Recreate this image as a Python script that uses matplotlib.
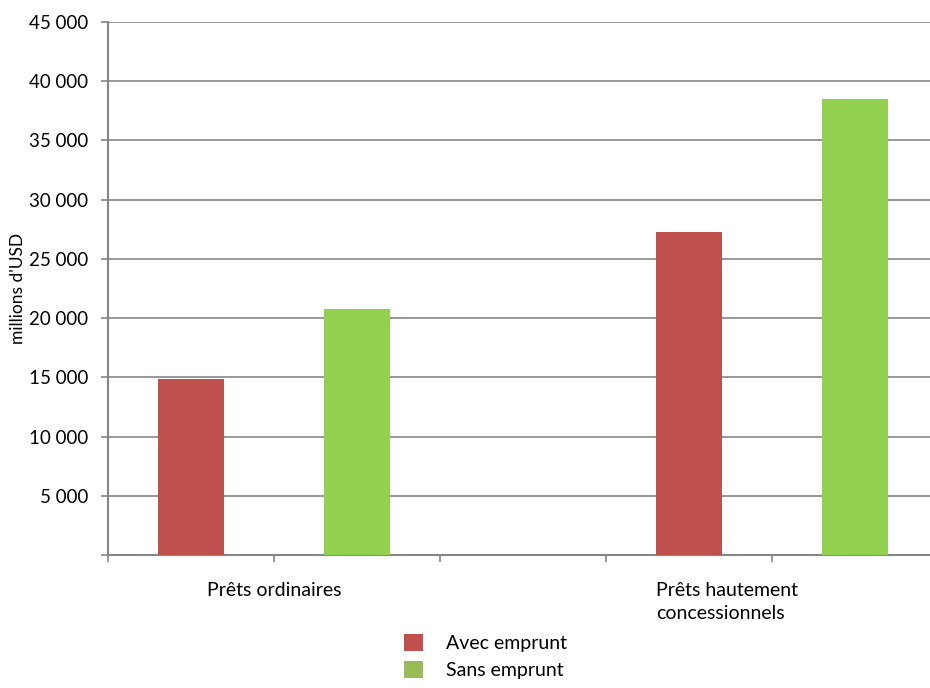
import matplotlib
matplotlib.use('Agg')
import matplotlib.pyplot as plt
from matplotlib.patches import Patch
from matplotlib.ticker import FuncFormatter, MultipleLocator

plt.rcParams['font.family'] = ['Lato', 'DejaVu Sans']

# données (millions d'USD)
categories = ['Prêts ordinaires', 'Prêts hautement\nconcessionnels']
series_names = ['Avec emprunt', 'Sans emprunt']
avec_emprunt = [14850, 27300]
sans_emprunt = [20800, 38500]
y_label = "millions d'USD"

bar_colors = ['#C0504D', '#92D050']
legend_colors = ['#C0504D', '#9BBB59']
axis_gray = '#868686'

# positions des groupes (en unités de "créneau")
group_centers = [1, 4]

fig = plt.figure(figsize=(9.3, 6.88), dpi=100)
ax = fig.add_axes([108 / 930, 1 - 555 / 688, 1 - 108 / 930, (555 - 22) / 688])

ax.bar([c - 0.5 for c in group_centers], avec_emprunt, width=0.4, color=bar_colors[0], zorder=3)
ax.bar([c + 0.5 for c in group_centers], sans_emprunt, width=0.4, color=bar_colors[1], zorder=3)

ax.set_xlim(0, (930 - 108) / 166)
ax.set_ylim(0, 45000)
ax.yaxis.set_major_locator(MultipleLocator(5000))
ax.yaxis.set_major_formatter(FuncFormatter(lambda v, p: '' if v == 0 else f'{v:,.0f}'.replace(',', ' ')))
ax.yaxis.grid(True, color=axis_gray, linewidth=1.2, zorder=0)

ax.set_xticks([0, 1, 2, 3, 4])
ax.set_xticklabels([])
ax.tick_params(axis='x', length=5, width=1.2, color=axis_gray)
ax.tick_params(axis='y', length=5, width=1.2, color=axis_gray, labelsize=13.5, pad=9)

for side in ['top', 'right']:
    ax.spines[side].set_visible(False)
for side in ['left', 'bottom']:
    ax.spines[side].set_color(axis_gray)
    ax.spines[side].set_linewidth(1.5)

ax.set_ylabel(y_label, fontsize=12.5)
ax.yaxis.set_label_coords(-82 / 822, 0.5)

# étiquettes des catégories
ax.text(group_centers[0], -2300, categories[0], ha='center', va='top', fontsize=14)
ax.text(group_centers[1] - 0.7, -2300, categories[1], ha='left', va='top', fontsize=14,
        linespacing=1.4)

handles = [Patch(facecolor=legend_colors[i], edgecolor='none') for i in range(2)]
fig.legend(handles, series_names, loc='upper left', bbox_to_anchor=(392 / 930, 1 - 622 / 688),
           frameon=False, fontsize=14, handlelength=1.0, handleheight=1.0,
           handletextpad=1.2, labelspacing=0.45, borderaxespad=0.2)

plt.savefig('out.png', dpi=100)
